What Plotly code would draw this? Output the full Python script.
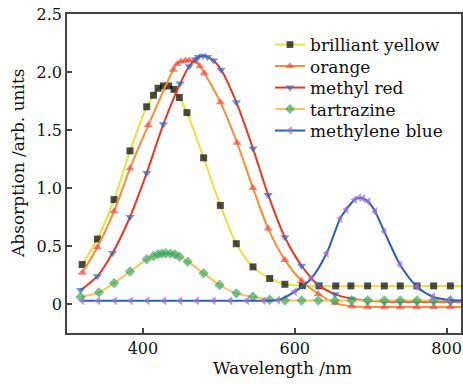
import plotly.graph_objects as go

# ---- data ----
by_x = [320, 340, 362, 383, 405, 414, 420, 427, 434, 441, 448, 458, 480, 502, 523, 545, 567,
        587, 610, 632, 654, 674, 696, 718, 739, 761, 783, 805, 822]
by_y = [0.34, 0.56, 0.90, 1.32, 1.70, 1.80, 1.86, 1.88, 1.88, 1.85, 1.78, 1.65, 1.26, 0.85, 0.52, 0.32, 0.22,
        0.17, 0.158, 0.156, 0.156, 0.156, 0.156, 0.156, 0.156, 0.156, 0.156, 0.156, 0.156]

or_x = [320, 340, 362, 383, 407, 440, 445, 450, 456, 461, 469, 475, 481, 502, 524, 545, 565,
        587, 609, 631, 653, 675, 696, 718, 739, 761, 783, 805, 822]
or_y = [0.27, 0.49, 0.80, 1.17, 1.54, 2.02, 2.07, 2.09, 2.10, 2.10, 2.09, 2.05, 1.99, 1.74, 1.39, 1.00, 0.65,
        0.38, 0.20, 0.086, 0.01, -0.02, -0.025, -0.025, -0.025, -0.025, -0.025, -0.025, -0.025]

mr_x = [318, 340, 360, 383, 405, 427, 449, 461, 469, 473, 479, 485, 493, 503, 523, 545, 565,
        587, 609, 631, 653, 675, 696, 718, 739, 761, 783, 805, 822]
mr_y = [0.12, 0.24, 0.44, 0.75, 1.13, 1.55, 1.90, 2.05, 2.11, 2.13, 2.14, 2.13, 2.10, 2.02, 1.74, 1.34, 0.94,
        0.575, 0.33, 0.165, 0.085, 0.045, 0.028, 0.022, 0.02, 0.02, 0.02, 0.02, 0.02]

ta_x = [318, 342, 362, 383, 405, 414, 420, 425, 430, 436, 442, 448, 459, 480, 501, 523, 545,
        567, 587, 609, 631, 653, 675, 696, 718, 739, 761, 783, 805, 822]
ta_y = [0.06, 0.10, 0.18, 0.28, 0.385, 0.414, 0.428, 0.434, 0.437, 0.434, 0.428, 0.408, 0.365, 0.265, 0.164, 0.092, 0.063,
        0.036, 0.032, 0.03, 0.03, 0.03, 0.03, 0.03, 0.03, 0.03, 0.03, 0.03, 0.03, 0.03]

mb_x = [320, 341, 363, 384, 406, 428, 449, 471, 493, 515, 537, 559, 578, 600, 622, 642, 660,
        668, 679, 685, 690, 697, 706, 718, 739, 761, 782, 803, 822]
mb_y = [0.028, 0.028, 0.028, 0.028, 0.028, 0.028, 0.028, 0.028, 0.028, 0.028, 0.028, 0.028, 0.034, 0.106, 0.222, 0.437, 0.739,
        0.816, 0.90, 0.916, 0.911, 0.882, 0.796, 0.623, 0.336, 0.149, 0.063, 0.034, 0.03]

names = ["brilliant yellow", "orange", "methyl red", "tartrazine", "methylene blue"]
y_ticks = [0, 0.5, 1.0, 1.5, 2.0, 2.5]
y_tick_labels = ["0", "0.5", "1.0", "1.5", "2.0", "2.5"]
x_ticks = [400, 600, 800]
x_title = "Wavelength /nm"
y_title = "Absorption /arb. units"

styles = [
    (by_x, by_y, "#e4e43c", "#000000", "square", 7),
    (or_x, or_y, "#ff8c2e", "#f04a4a", "triangle-up", 8),
    (mr_x, mr_y, "#ee3525", "#2b6cc4", "triangle-down", 8),
    (ta_x, ta_y, "#f5c45c", "#3aa860", "diamond", 8),
    (mb_x, mb_y, "#2c5fb3", "#9b72c9", "triangle-left", 8),
]

W, H = 463, 384
ML, MR, MT, MB = 67, 2, 14, 51
plot_h = H - MT - MB
font_family = "DejaVu Serif"

fig = go.Figure()
legend_ids = ["legend", "legend2", "legend3", "legend4", "legend5"]
legend_centers_px = [45, 66.5, 88, 109.5, 131]
layout_legends = {}
for i, (name, (xs, ys, lc, mc, sym, ms)) in enumerate(zip(names, styles)):
    sizes = [ms] * (len(xs) - 1) + [0]
    fig.add_trace(go.Scatter(
        x=xs, y=ys, name=name, mode="lines+markers", legend=legend_ids[i],
        line=dict(color=lc, width=2, shape="spline", smoothing=0.8),
        marker=dict(symbol=sym, color=mc, size=sizes, line=dict(width=0)),
    ))
    layout_legends[legend_ids[i]] = dict(
        x=(270 - ML) / (W - ML - MR), y=(H - MB - legend_centers_px[i]) / plot_h,
        xanchor="left", yanchor="middle", bgcolor="rgba(255,255,255,0)",
        font=dict(size=17, family=font_family, color="#111"), itemwidth=30,
    )

fig.update_layout(
    width=W, height=H,
    margin=dict(l=ML, r=MR, t=MT, b=MB, autoexpand=False),
    paper_bgcolor="white", plot_bgcolor="white",
    font=dict(family=font_family, size=16, color="#111"),
    showlegend=True,
    **layout_legends,
)
fig.add_annotation(text=x_title, xref="paper", yref="paper",
                   x=(282 - ML) / (W - ML - MR), y=(H - MB - 368) / plot_h,
                   xanchor="center", yanchor="middle", showarrow=False,
                   font=dict(size=17, family=font_family, color="#111"))
fig.add_annotation(text=y_title, xref="paper", yref="paper", textangle=-90,
                   x=(18 - ML) / (W - ML - MR), y=(H - MB - 163) / plot_h,
                   xanchor="center", yanchor="middle", showarrow=False,
                   font=dict(size=17, family=font_family, color="#111"))
fig.update_xaxes(
    range=[300, 819], tickvals=x_ticks, ticks="inside", ticklen=5, tickwidth=1.5,
    showline=True, linecolor="#444", linewidth=1.5, mirror=True, showgrid=False, zeroline=False,
    tickfont=dict(size=16),
)
fig.update_yaxes(
    range=[-0.25, 2.5], tickvals=y_ticks, ticktext=y_tick_labels, ticks="inside", ticklen=5, tickwidth=1.5,
    showline=True, linecolor="#444", linewidth=1.5, mirror=True, showgrid=False, zeroline=False,
    tickfont=dict(size=16),
)
fig.write_html("out.html", config={"displayModeBar": False})

# remove the default page margin so the figure sits at the window's corner
with open("out.html", "r", encoding="utf-8") as f:
    html = f.read()
html = html.replace("<body>", '<body style="margin:0;padding:0;overflow:hidden">', 1)
with open("out.html", "w", encoding="utf-8") as f:
    f.write(html)
